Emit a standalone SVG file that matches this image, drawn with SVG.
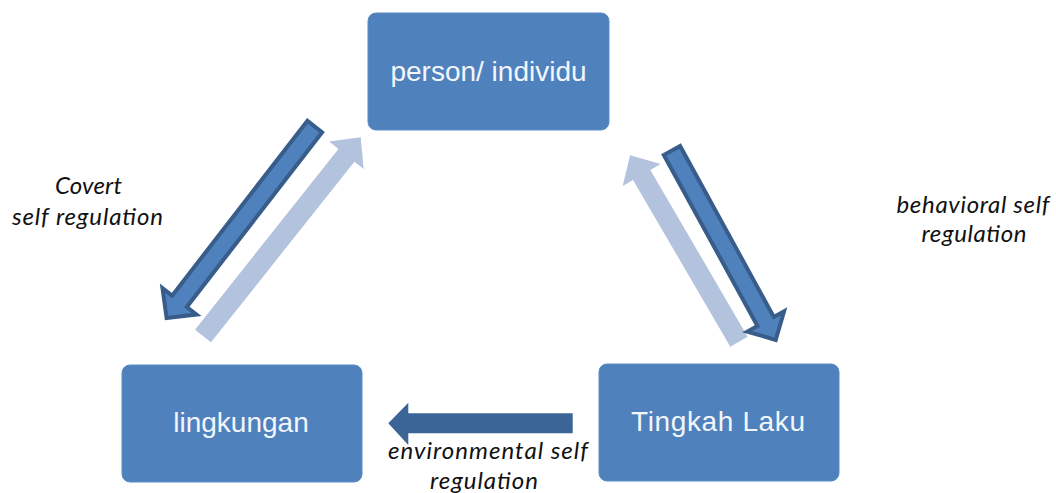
<svg xmlns="http://www.w3.org/2000/svg" width="1056" height="493" viewBox="0 0 1056 493">
<style>
.box{fill:#4f81bd;stroke:#5b8bc4;stroke-width:1}
.bt{font-family:"Liberation Sans",Arial,sans-serif;font-size:28px;fill:#f3f6fa;text-anchor:middle}
.lbl{font-family:Lato,"Liberation Sans",sans-serif;font-style:italic;font-size:24px;fill:#111;text-anchor:middle}
.dark{fill:#4f81bd;stroke:#385d8a;stroke-width:4;stroke-linejoin:miter}
.light{fill:#b3c3de}
.env{fill:#3b6497}
</style>
<rect width="1056" height="493" fill="#fff"/>
<g id="connectors">
<polygon class="light" transform="translate(203,336) rotate(-51.56)" points="0,-10.2 230.7,-10.2 230.7,-22 253.7,0 230.7,22 230.7,10.2 0,10.2"/>
<polygon class="dark" transform="translate(316,125) rotate(127.75)" points="2,-9.3 223,-9.3 223,-21.5 244,0 223,21.5 223,9.3 2,9.3"/>
<polygon class="light" transform="translate(739,341.7) rotate(-120.28)" points="0,-10 193,-10 193,-22 216,0 193,22 193,10 0,10"/>
<polygon class="dark" transform="translate(671,148.7) rotate(61.29)" points="2,-9.3 197,-9.3 197,-21 218,0 197,21 197,9.3 2,9.3"/>
<polygon class="env" points="388.3,423.3 408.3,402.7 408.3,413.3 572.7,413.3 572.7,433.3 408.3,433.3 408.3,445"/>
</g>
<g id="node-person">
<rect class="box" x="368" y="13" width="241" height="117" rx="8"/>
<text class="bt" x="488.5" y="81">person/ individu</text>
</g>
<g id="node-lingkungan">
<rect class="box" x="122" y="365" width="240" height="117" rx="8"/>
<text class="bt" x="241" y="432">lingkungan</text>
</g>
<g id="node-tingkah">
<rect class="box" x="599" y="364" width="240" height="117" rx="8"/>
<text class="bt" x="718" y="431" textLength="174" lengthAdjust="spacing">Tingkah Laku</text>
</g>
<g id="labels">
<text class="lbl" x="88.5" y="194" textLength="67">Covert</text>
<text class="lbl" x="87.5" y="225" textLength="151">self regulation</text>
<text class="lbl" x="973" y="213" textLength="153">behavioral self</text>
<text class="lbl" x="974" y="242" textLength="105">regulation</text>
<text class="lbl" x="488" y="459" textLength="200">environmental self</text>
<text class="lbl" x="484" y="489" textLength="108">regulation</text>
</g>
</svg>
